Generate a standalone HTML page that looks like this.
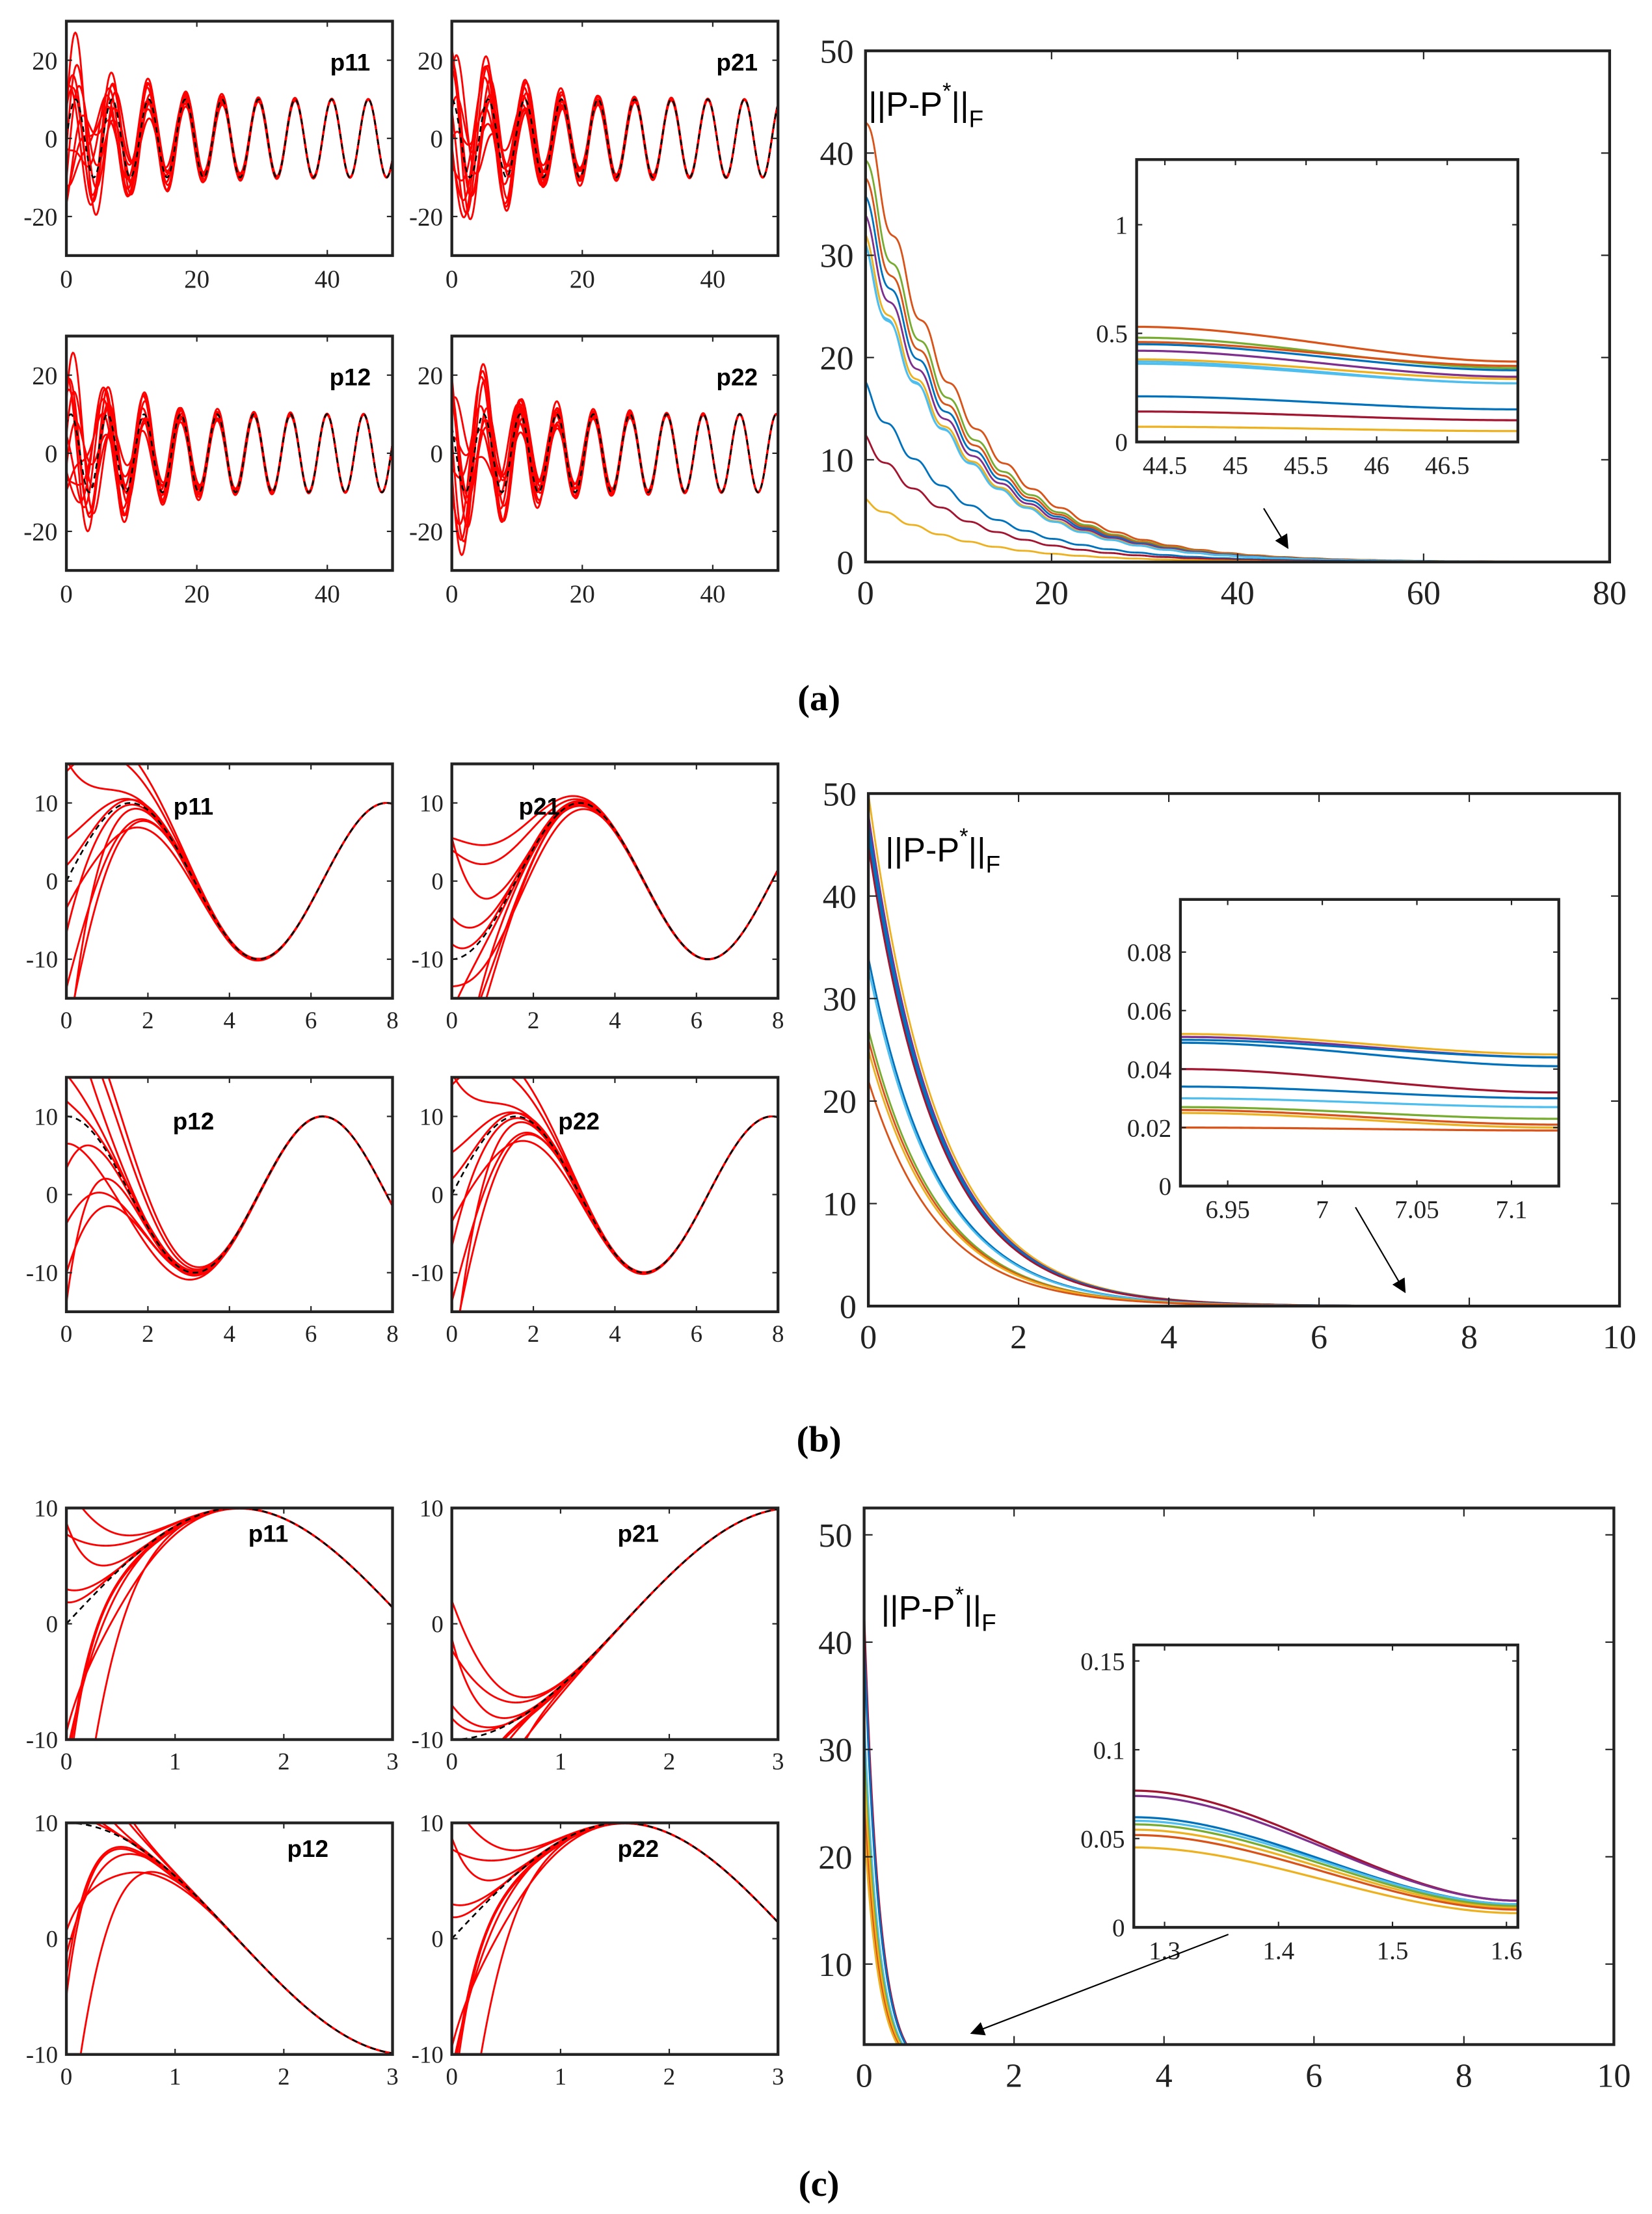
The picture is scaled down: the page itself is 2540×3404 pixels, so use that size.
<!DOCTYPE html>
<html><head><meta charset="utf-8"><style>
html,body{margin:0;padding:0;background:#fff;}
svg{display:block;}
.tk{font-family:"Liberation Serif",serif;fill:#222;}
.lb{font-family:"Liberation Sans",sans-serif;font-weight:bold;fill:#000;}
.nm{font-family:"Liberation Sans",sans-serif;fill:#000;}
</style></head><body>
<svg id="fig" width="2540" height="3404" viewBox="0 0 1170 1568" xmlns="http://www.w3.org/2000/svg">
<defs><marker id="ah" markerWidth="10" markerHeight="10" refX="9" refY="5" orient="auto" markerUnits="userSpaceOnUse"><path d="M0,0 L10,5 L0,10 z" fill="#000"/></marker></defs>
</svg>
<script>
// ---- data ----
const colors=["#D95319","#77AC30","#D95319","#0072BD","#7E2F8E","#EDB120","#4DBEEE","#4DBEEE","#0072BD","#A2142F","#EDB120"];
const aInit=[43,39,37,35,33,31,30,30,17,12,6];
const aInset=[0.53,0.48,0.46,0.45,0.42,0.38,0.37,0.36,0.21,0.14,0.07];
const aInsetEnd=[0.37,0.34,0.35,0.33,0.30,0.29,0.27,0.27,0.15,0.10,0.05];
const bColors=["#EDB120","#7E2F8E","#0072BD","#0072BD","#A2142F","#0072BD","#4DBEEE","#77AC30","#D95319","#EDB120","#D95319"];
const bInit=[50,48,47,46,45,34,33,27,26,25,22];
const bInset=[0.052,0.051,0.050,0.049,0.040,0.034,0.030,0.027,0.026,0.025,0.020];
const bInsetEnd=[0.045,0.044,0.044,0.041,0.032,0.030,0.027,0.023,0.021,0.020,0.019];
const cColors=["#A2142F","#7E2F8E","#0072BD","#4DBEEE","#77AC30","#EDB120","#D95319","#EDB120"];
const cInit=[43,41,40,33,30,28,25,23];
const cInset=[0.077,0.074,0.062,0.060,0.058,0.055,0.052,0.045];
const cInsetEnd=[0.015,0.015,0.013,0.013,0.012,0.011,0.010,0.008];
const aOffA=[20,-18,15,-12,22,-10,12,-19,8,16];
const aOffPh=[0.3,1.2,2.1,2.9,3.7,4.5,5.2,0.8,1.7,3.3];
const bOff=[14,-12,9,-6,5,-15,20,-9,3,-18];
const cOff=[12,-8,6,-14,3,-18,9,-22,2,-11];

const svg=document.getElementById('fig');
const NS="http://www.w3.org/2000/svg";
let clipN=0;
function el(tag,attrs,parent){const e=document.createElementNS(NS,tag);for(const k in attrs)e.setAttribute(k,attrs[k]);(parent||svg).appendChild(e);return e;}
function txt(x,y,s,cls,size,anchor,parent){const t=el('text',{x:x,y:y,'font-size':size,'text-anchor':anchor||'middle',class:cls},parent);t.textContent=s;return t;}
function axes(name,box,xr,yr,xt,yt,fs,xlab,ylab,tl){
 const g=el('g',{});
 
 
 const sx=v=>box[0]+(v-xr[0])/(xr[1]-xr[0])*(box[2]-box[0]);
 const sy=v=>box[3]-(v-yr[0])/(yr[1]-yr[0])*(box[3]-box[1]);
 const id='c'+(clipN++);
 const cp=el('clipPath',{id:id},g);el('rect',{x:box[0],y:box[1],width:box[2]-box[0],height:box[3]-box[1]},cp);
 const plot=el('g',{'clip-path':'url(#'+id+')'},g);
 xt.forEach((v,i)=>{const x=sx(v);el('line',{x1:x,x2:x,y1:box[3],y2:box[3]-tl,stroke:'#222','stroke-width':1},g);el('line',{x1:x,x2:x,y1:box[1],y2:box[1]+tl,stroke:'#222','stroke-width':1},g);
  const t=txt(x,box[3]+fs*1.25,xlab?xlab[i]:String(v),'tk',fs,'middle',g);});
 yt.forEach((v,i)=>{const y=sy(v);el('line',{x1:box[0],x2:box[0]+tl,y1:y,y2:y,stroke:'#222','stroke-width':1},g);el('line',{x1:box[2],x2:box[2]-tl,y1:y,y2:y,stroke:'#222','stroke-width':1},g);
  const t=txt(box[0]-fs*0.35,y+fs*0.35,ylab?ylab[i]:String(v),'tk',fs,'end',g);});
 return {g,plot,sx,sy,box,finish(){el('rect',{x:box[0],y:box[1],width:box[2]-box[0],height:box[3]-box[1],fill:'none',stroke:'#222','stroke-width':2},g);}};
}
function curve(ax,f,t0,t1,n,style,name){let d='';for(let i=0;i<=n;i++){const t=t0+(t1-t0)*i/n;d+=(i?'L':'M')+ax.sx(t).toFixed(2)+','+ax.sy(f(t)).toFixed(2);}
 const p=el('path',Object.assign({d:d,fill:'none'},style),ax.plot);return p;}
function small(name,box,xr,yr,xt,yt,label,lx,ref,err,offs,fs){
 const ax=axes(name,box,xr,yr,xt,yt,fs,null,null,4);
 offs.forEach((o,i)=>curve(ax,t=>ref(t)+err(t,o,i),xr[0],xr[1],400,{stroke:'#f00','stroke-width':1.3},'trajectory-'+i));
 curve(ax,ref,xr[0],xr[1],400,{stroke:'#000','stroke-width':1.2,'stroke-dasharray':'4,3'},'reference-curve');
 ax.finish();const t=txt(lx[0],lx[1],label,'lb',17,'middle',ax.g);
}
function big(name,box,xr,yr,xt,yt,init,cols,tau,rip,fs){
 const ax=axes(name,box,xr,yr,xt,yt,fs,null,null,6);
 init.forEach((v,i)=>curve(ax,t=>v*Math.exp(-t/tau)*(1+rip*Math.sin(2.1*t+i*0.2)),xr[0],xr[1],800,{stroke:cols[i],'stroke-width':1.3},'error-norm-'+i));
 ax.finish();return ax;
}
function inset(name,box,xr,yr,xt,yt,xl,yl,s,e,cols){
 el('rect',{x:box[0],y:box[1],width:box[2]-box[0],height:box[3]-box[1],fill:'#fff'});
 const ax=axes(name,box,xr,yr,xt,yt,18,xl,yl,4);
 s.forEach((v,i)=>curve(ax,t=>{const u=(t-xr[0])/(xr[1]-xr[0]);return v+(e[i]-v)*(u*u*(3-2*u));},xr[0],xr[1],100,{stroke:cols[i],'stroke-width':1.5},'inset-curve-'+i));
 ax.finish();
}
function normLabel(x,y){const t=el('text',{x:x,y:y,'font-size':24,class:'nm'});
 t.innerHTML='||P-P<tspan dy="-12" font-size="16">*</tspan><tspan dy="12">||</tspan><tspan dy="8" font-size="17">F</tspan>';}
function arrow(x1,y1,x2,y2){const a=el('line',{x1,y1,x2,y2,stroke:'#000','stroke-width':1,'marker-end':'url(#ah)'});}
function cap(x,y,s){const t=el('text',{x:x,y:y,'font-size':26,'text-anchor':'middle','font-family':'Liberation Serif,serif','font-weight':'bold'});t.textContent=s;}

// Panel (a)
const wA=1.12;
const errA=(t,o,i)=>o*Math.exp(-t/9)*Math.sin(0.85*t+aOffPh[i]);
[[47,15,'p11',0,[248,50]],[320,15,'p21',1.6,[522,50]],[47,238,'p12',0.8,[248,273]],[320,238,'p22',2.4,[522,273]]].forEach(p=>{
 small('panel-a-'+p[2],[p[0],p[1],p[0]+231,p[1]+166],[0,50],[-30,30],[0,20,40],[-20,0,20],p[2],p[4],t=>10*Math.sin(wA*t+p[3]),errA,aOffA,18);
});
big('panel-a-error-plot',[613,36,1140,398],[0,80],[0,50],[0,20,40,60,80],[0,10,20,30,40,50],aInit,colors,10,0.04,24);
normLabel(615,82);
inset('panel-a-inset',[805,113,1075,313],[44.3,47],[0,1.3],[44.5,45,45.5,46,46.5],[0,0.5,1],null,null,aInset,aInsetEnd,colors);
arrow(895,360,912,388);cap(580,503,'(a)');

// Panel (b)
const refB={p11:t=>10*Math.sin(t),p21:t=>-10*Math.cos(t),p12:t=>10*Math.cos(t),p22:t=>10*Math.sin(t)};
const errB=(t,o,i)=>o*Math.exp(-1.1*t)*(1+0.8*Math.sin(t+i));
[[47,541,'p11',[137,577]],[320,541,'p21',[382,577]],[47,763,'p12',[137,800]],[320,763,'p22',[410,800]]].forEach(p=>{
 small('panel-b-'+p[2],[p[0],p[1],p[0]+231,p[1]+166],[0,8],[-15,15],[0,2,4,6,8],[-10,0,10],p[2],p[3],refB[p[2]],errB,bOff,17);
});
big('panel-b-error-plot',[615,562,1147,925],[0,10],[0,50],[0,2,4,6,8,10],[0,10,20,30,40,50],bInit,bColors,0.93,0,24);
normLabel(627,610);
inset('panel-b-inset',[836,637,1104,840],[6.925,7.125],[0,0.098],[6.95,7,7.05,7.1],[0,0.02,0.04,0.06,0.08],null,null,bInset,bInsetEnd,bColors);
arrow(960,855,995,915);cap(580,1028,'(b)');

// Panel (c)
const errC=(t,o,i)=>o*Math.exp(-3.5*t)*(1+0.5*Math.sin(3*t+i))+ (o>0?-1:1)*2*t*Math.exp(-3*t);
[[47,1068,'p11',[190,1092]],[320,1068,'p21',[452,1092]],[47,1291,'p12',[218,1315]],[320,1291,'p22',[452,1315]]].forEach(p=>{
 small('panel-c-'+p[2],[p[0],p[1],p[0]+231,p[1]+164],[0,3],[-10,10],[0,1,2,3],[-10,0,10],p[2],p[3],refB[p[2]],errC,cOff,17);
});
big('panel-c-error-plot',[612,1068,1143,1448],[0,10],[2.5,52.5],[0,2,4,6,8,10],[10,20,30,40,50],cInit,cColors,0.2,0,24);
normLabel(624,1147);
inset('panel-c-inset',[803,1165,1075,1365],[1.273,1.61],[0,0.159],[1.3,1.4,1.5,1.6],[0,0.05,0.1,0.15],null,null,cInset,cInsetEnd,cColors);
arrow(870,1370,688,1440);cap(580,1555,'(c)');
</script>
</body></html>
